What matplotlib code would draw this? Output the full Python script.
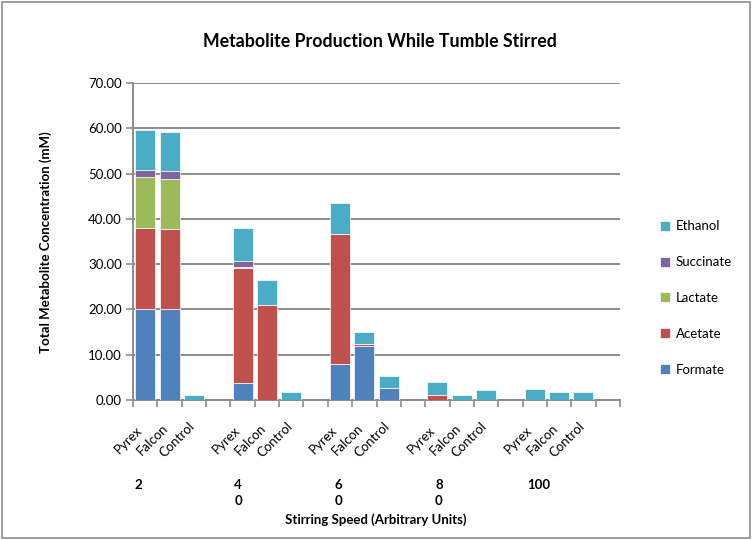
import numpy as np
import matplotlib.pyplot as plt
from matplotlib.patches import Rectangle

plt.rcParams['font.family'] = ['Lato', 'DejaVu Sans']

# stirring speed groups and vessels within each group
speeds = ['2', '4\n0', '6\n0', '8\n0', '100']
vessels = ['Pyrex', 'Falcon', 'Control']

# metabolite values (mM), one entry per vessel, groups in order 20..100
formate   = [20.2, 20.1, 0.0,  3.7, 0.0, 0.0,  7.9, 12.0, 2.6,  0.0, 0.0, 0.0,  0.0, 0.0, 0.0]
acetate   = [17.7, 17.6, 0.0, 25.5, 21.0, 0.0, 28.7, 0.4, 0.0,  1.2, 0.0, 0.0,  0.0, 0.0, 0.0]
lactate   = [11.3, 11.1, 0.0,  0.2, 0.0, 0.0,  0.0, 0.0, 0.0,  0.0, 0.0, 0.0,  0.0, 0.0, 0.0]
succinate = [ 1.6,  1.7, 0.0,  1.4, 0.0, 0.0,  0.0, 0.0, 0.0,  0.0, 0.0, 0.0,  0.0, 0.0, 0.0]
ethanol   = [ 8.8,  8.6, 1.2,  7.1, 5.4, 1.8,  6.9, 2.6, 2.7,  2.8, 1.1, 2.1,  2.4, 1.8, 1.8]

series = [('Formate', formate, '#4F81BD'),
          ('Acetate', acetate, '#C0504D'),
          ('Lactate', lactate, '#9BBB59'),
          ('Succinate', succinate, '#8064A2'),
          ('Ethanol', ethanol, '#4BACC6')]

# each group takes 4 slots: 3 vessels + 1 empty spacer
xpos = np.array([4 * g + v for g in range(len(speeds)) for v in range(len(vessels))])

fig = plt.figure(figsize=(7.52, 5.40), dpi=100)
ax = fig.add_axes([133 / 752, 1 - 400 / 540, 487 / 752, 317 / 540])

bottom = np.zeros(len(xpos))
handles = []
for name, vals, col in series:
    vals = np.array(vals)
    h = ax.bar(xpos, vals, width=0.82, bottom=bottom, color=col,
               edgecolor='white', linewidth=0.5, label=name, zorder=3)
    handles.append(h)
    bottom += vals

ax.set_xlim(-0.5, 19.5)
ax.set_ylim(0, 70)
ax.set_yticks(np.arange(0, 71, 10))
ax.set_yticklabels(['%.2f' % v for v in np.arange(0, 71, 10)], fontsize=9.5)
ax.yaxis.grid(True, color='#8C8C8C', linewidth=1.4, zorder=0)
ax.set_axisbelow(True)

# category ticks at slot boundaries
ax.set_xticks(np.arange(-0.5, 20, 1))
ax.set_xticklabels([])
ax.tick_params(axis='x', length=5, width=1.2, color='#8C8C8C', direction='out')
ax.tick_params(axis='y', length=5, width=1.2, color='#8C8C8C', direction='out', pad=3)
for s in ['top', 'right']:
    ax.spines[s].set_visible(False)
for s in ['left', 'bottom']:
    ax.spines[s].set_color('#8C8C8C')
    ax.spines[s].set_linewidth(1.4)

# rotated vessel labels under each bar
trans = ax.get_xaxis_transform()
for i, x in enumerate(xpos):
    ax.text(x - 0.68, -0.125, vessels[i % 3], rotation=45, ha='center', va='center',
            fontsize=9.5, transform=trans)

# speed group labels
for g, lab in enumerate(speeds):
    ax.text(4 * g - 0.3 + 0.12 * g, -0.25, lab, ha='center', va='top',
            fontsize=9.5, fontweight='bold', linespacing=1.35, transform=trans)

fig.text(376 / 752, 1 - 520 / 540, 'Stirring Speed (Arbitrary Units)', ha='center', va='center',
         fontsize=9.5, fontweight='bold')
fig.text(46 / 752, 1 - 242 / 540, 'Total Metabolite Concentration (mM)', rotation=90,
         ha='center', va='center', fontsize=9.5, fontweight='bold')
fig.text(380 / 752, 1 - 42 / 540, 'Metabolite Production While Tumble Stirred',
         ha='center', va='center', fontsize=12.8, fontweight='bold')

leg = fig.legend(handles[::-1], [s[0] for s in series][::-1], loc='center left',
                 bbox_to_anchor=(648 / 752, 1 - 298 / 540), frameon=False,
                 fontsize=9.5, handlelength=0.8, handleheight=0.8,
                 handletextpad=0.4, labelspacing=1.8)

# chart border
fig.patches.append(Rectangle((0.003, 0.003), 0.994, 0.994, transform=fig.transFigure,
                             fill=False, edgecolor='#8C8C8C', linewidth=1.2))

plt.savefig('out.png', dpi=100)
